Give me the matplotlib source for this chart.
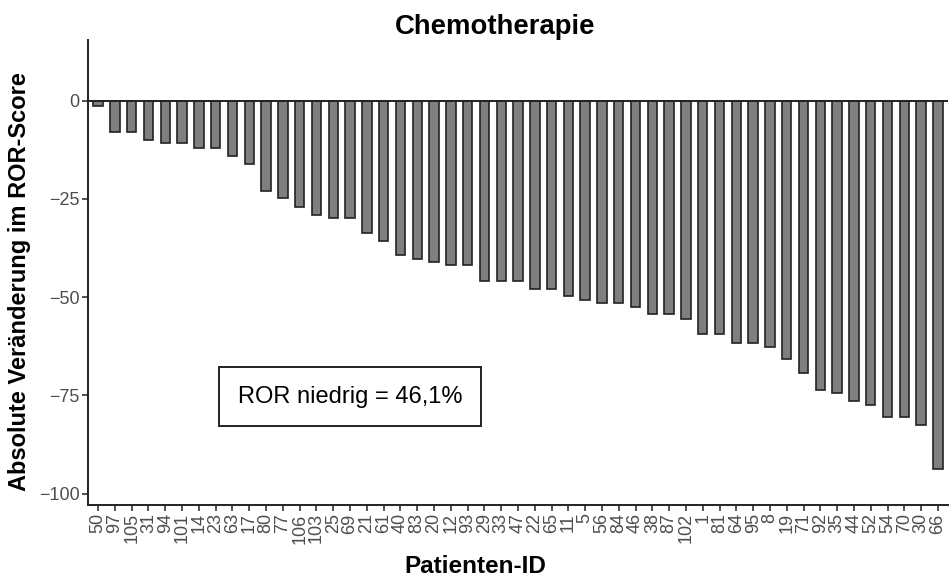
import matplotlib
matplotlib.use("Agg")
import matplotlib.pyplot as plt
import numpy as np

plt.rcParams["font.family"] = ["Liberation Sans", "DejaVu Sans"]

patient_ids = ["50", "97", "105", "31", "94", "101", "14", "23", "63", "17",
               "80", "77", "106", "103", "25", "69", "21", "61", "40", "83",
               "20", "12", "93", "29", "33", "47", "22", "65", "11", "5",
               "56", "84", "46", "38", "87", "102", "1", "81", "64", "95",
               "8", "19", "71", "92", "35", "44", "52", "54", "70", "30", "66"]
ror_change = [-1.5, -8.1, -8.1, -10.1, -10.9, -10.9, -12.1, -12.1, -14.0, -16.1,
              -22.9, -24.9, -27.0, -29.0, -30.0, -30.0, -33.8, -35.7, -39.2, -40.2,
              -41.0, -41.8, -41.8, -45.8, -45.8, -45.8, -47.9, -47.9, -49.7, -50.8,
              -51.5, -51.5, -52.5, -54.4, -54.4, -55.5, -59.5, -59.5, -61.7, -61.7,
              -62.6, -65.8, -69.4, -73.7, -74.4, -76.5, -77.5, -80.4, -80.4, -82.6,
              -93.7]
yticks = [0, -25, -50, -75, -100]
ytick_labels = ["0", "\u221225", "\u221250", "\u221275", "\u2212100"]
note = "ROR niedrig = 46,1%"

fig = plt.figure(figsize=(9.51, 5.77), dpi=100)
ax = fig.add_axes([88 / 951, 1 - 505 / 577, (948 - 88) / 951, (505 - 40) / 577])

x = np.arange(len(patient_ids))
ax.bar(x, ror_change, width=0.56, color="#7f7f7f", edgecolor="#222222", linewidth=1.2, zorder=2)
ax.axhline(0, color="#222222", linewidth=1.4, zorder=3)

ax.set_xlim(-0.6, len(patient_ids) - 0.4)
ax.set_ylim(-102.9, 15.4)
ax.set_xticks(x)
ax.set_xticklabels(patient_ids, rotation=90, fontsize=13, color="#4d4d4d")
ax.set_yticks(yticks)
ax.set_yticklabels(ytick_labels, fontsize=13, color="#4d4d4d")

for side in ["top", "right"]:
    ax.spines[side].set_visible(False)
for side in ["left", "bottom"]:
    ax.spines[side].set_linewidth(1.4)
    ax.spines[side].set_color("#222222")
ax.tick_params(axis="both", direction="out", length=4, width=1.2, color="#333333", pad=2)

ax.set_title("Chemotherapie", fontsize=19.8, fontweight="bold", pad=4, x=0.473)
ax.set_xlabel("Patienten-ID", fontsize=17.5, fontweight="bold", va="baseline")
ax.xaxis.set_label_coords(0.45, -0.147)
ax.set_ylabel("Absolute Ver\u00e4nderung im ROR-Score", fontsize=17, fontweight="bold")
ax.yaxis.set_label_coords(-0.066, 0.48)

ax.text(15, -75.3, note, fontsize=17, ha="center", va="center",
        bbox=dict(boxstyle="square,pad=0.8", facecolor="white", edgecolor="#222222", linewidth=1.4))

fig.savefig("out.png", dpi=100)
